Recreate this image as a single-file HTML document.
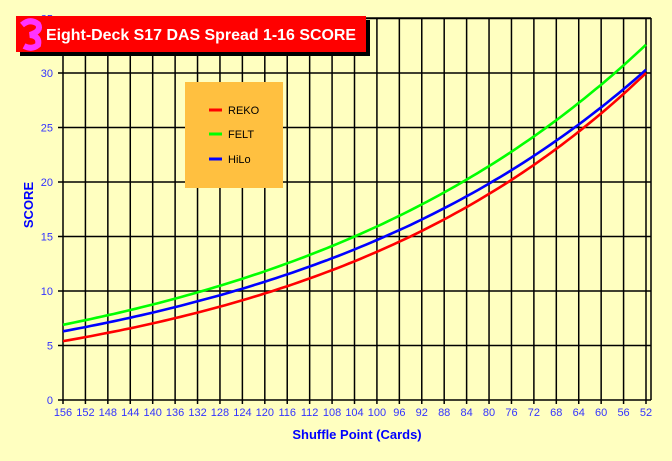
<!DOCTYPE html>
<html><head><style>
body{margin:0;background:#FFFFC0;}
svg{display:block}
text{font-family:"Liberation Sans",Arial,sans-serif}
</style></head><body>
<svg id="s" width="672" height="461" xmlns="http://www.w3.org/2000/svg">
<rect width="672" height="461" fill="#FFFFC0"/>
<g id="grid" stroke="#000" stroke-width="1.5"></g>
<g id="lab" fill="#3333ff" font-size="11"></g>
<text x="0" y="0" transform="translate(33,205) rotate(-90)" fill="#0000ff" font-size="13" font-weight="bold" text-anchor="middle">SCORE</text>
<text x="357" y="439" fill="#0000ff" font-size="13" font-weight="bold" text-anchor="middle">Shuffle Point (Cards)</text>
<g id="lines" fill="none" stroke-width="2.6"></g>
<rect x="185" y="82" width="98" height="106" fill="#FFC040"/>
<line x1="209" y1="110" x2="222" y2="110" stroke="#ff0000" stroke-width="3"/>
<line x1="209" y1="134" x2="222" y2="134" stroke="#00ff00" stroke-width="3"/>
<line x1="209" y1="159" x2="222" y2="159" stroke="#0000ff" stroke-width="3"/>
<text x="228" y="114" font-size="11" fill="#000">REKO</text>
<text x="228" y="138" font-size="11" fill="#000">FELT</text>
<text x="228" y="163" font-size="11" fill="#000">HiLo</text>
<rect x="20" y="20" width="350" height="36" fill="#000"/>
<rect x="16" y="16" width="350" height="36" fill="#ff0000"/>
<path d="M22 25 Q30 18 38 24 Q42 31 30 35 Q40 36 38 45 Q32 50 24 46" fill="none" stroke="#ff33ff" stroke-width="6"/>
<text x="46" y="40" fill="#fff" font-size="16" font-weight="bold" textLength="310" lengthAdjust="spacingAndGlyphs">Eight-Deck S17 DAS Spread 1-16 SCORE</text>
</svg>
<script>
var ns="http://www.w3.org/2000/svg";
function el(p,t,a,txt){var e=document.createElementNS(ns,t);for(var k in a)e.setAttribute(k,a[k]);if(txt!=null)e.textContent=txt;document.getElementById(p).appendChild(e);}
var x0=63,dx=(646-63)/26,y0=400,dy=(400-18.5)/35;
for(var i=0;i<=26;i++){var x=x0+i*dx;el("grid","line",{x1:x,y1:18,x2:x,y2:404});
el("lab","text",{x:x,y:416,"text-anchor":"middle"},156-4*i);}
el("grid","line",{x1:63,y1:18,x2:651,y2:18});
el("grid","line",{x1:651,y1:18,x2:651,y2:400});
for(var v=0;v<=35;v+=5){var y=y0-v*dy;el("grid","line",{x1:58,y1:y,x2:651,y2:y});
el("lab","text",{x:53,y:y+4,"text-anchor":"end"},v);}
function ser(a,b,c){var p=[];for(var i=0;i<=104;i++){var t=i/4;var v=a*Math.pow(b/a,t/26);p.push((x0+t*dx).toFixed(1)+","+(y0-v*dy).toFixed(1));}
el("lines","polyline",{points:p.join(" "),stroke:c});}
ser(6.9,32.6,"#00ff00");ser(5.4,30,"#ff0000");ser(6.3,30.3,"#0000ff");
</script>
</body></html>
